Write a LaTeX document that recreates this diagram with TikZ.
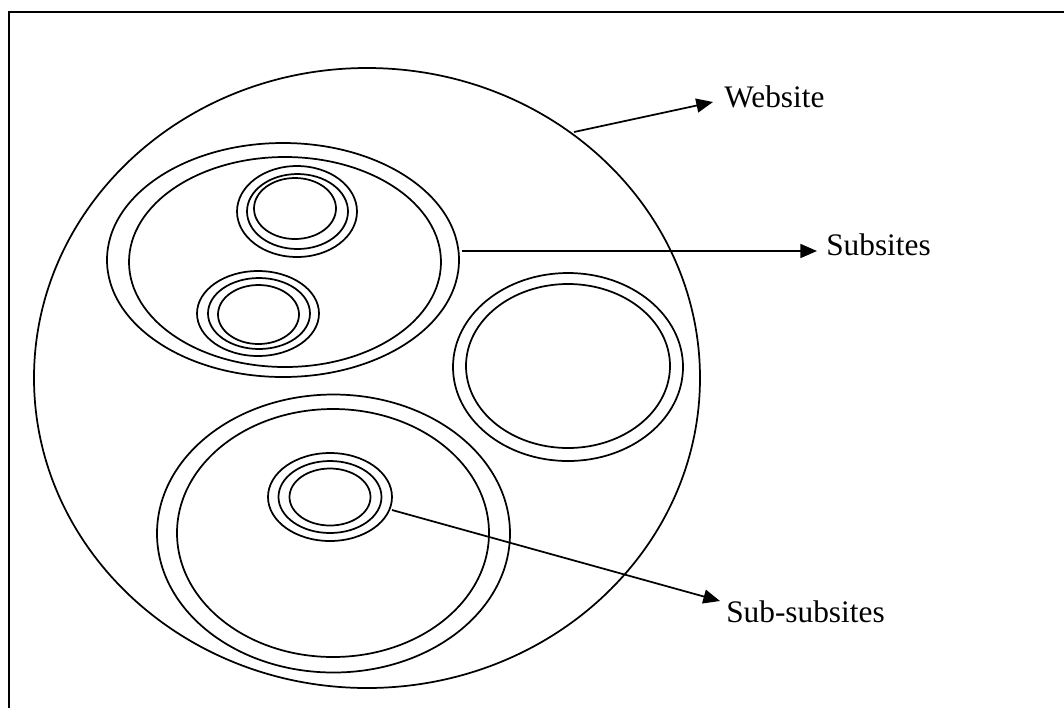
\documentclass[tikz,border=0pt]{standalone}
\usepackage{fontspec}
\setmainfont{Liberation Serif}
\usetikzlibrary{arrows.meta,calc}
\begin{document}
\begin{tikzpicture}[x=0.75pt,y=-0.75pt,
  ring/.style={line width=1.3pt},
  conn/.style={line width=1.3pt,-{Triangle[length=12.5pt,width=10.5pt]}},
  lbl/.style={anchor=base west,inner sep=0pt,font=\fontsize{23.5pt}{28pt}\selectfont},
  frameline/.style={line width=1.8pt}]
\useasboundingbox (0,0) rectangle (1064,708);
% frame
\draw[frameline] (9,708) -- (9,12) -- (1064,12);
% website
\draw[ring] (367,378) ellipse [x radius=333, y radius=310];
% upper-left subsite
\draw[ring] (283,260) ellipse [x radius=176, y radius=117];
\draw[ring] (285,262) ellipse [x radius=156, y radius=105];
% sub-subsite top
\draw[ring] (297,211.5) ellipse [x radius=60, y radius=45.5];
\draw[ring] (297.5,211.5) ellipse [x radius=50.5, y radius=37.5];
\draw[ring] (295,208.5) ellipse [x radius=41, y radius=30.5];
% sub-subsite lower
\draw[ring] (258,313.5) ellipse [x radius=61, y radius=42.5];
\draw[ring] (259,313.5) ellipse [x radius=51, y radius=35.5];
\draw[ring] (258.5,314.5) ellipse [x radius=40.5, y radius=29.5];
% right subsite
\draw[ring] (568,367) ellipse [x radius=115, y radius=94];
\draw[ring] (568,366) ellipse [x radius=102, y radius=82];
% bottom subsite
\draw[ring] (333.5,533.5) ellipse [x radius=176.5, y radius=139];
\draw[ring] (333,533) ellipse [x radius=156, y radius=124];
% sub-subsite in bottom
\draw[ring] (330,497) ellipse [x radius=62, y radius=44];
\draw[ring] (330,497) ellipse [x radius=51.5, y radius=36];
\draw[ring] (330,497) ellipse [x radius=40.5, y radius=28.5];
% labels
\node[lbl] (website) at (724,107) {Website};
\node[lbl] (subsites) at (826,255) {Subsites};
\node[lbl] (subsub) at (726,622) {Sub-subsites};
% connector ends
\coordinate (webstart) at (574,132);
\coordinate (webtip) at ($(website.base west)+(-11,-5)$);
\coordinate (substart) at (462,251);
\coordinate (subtip) at ($(subsites.base west)+(-9,-4)$);
\coordinate (sssstart) at (392,510);
\coordinate (ssstip) at ($(subsub.base west)+(-6,-21)$);
\draw[conn] (webstart) -- (webtip);
\draw[conn] (substart) -- (subtip);
\draw[conn] (sssstart) -- (ssstip);
\end{tikzpicture}
\end{document}
